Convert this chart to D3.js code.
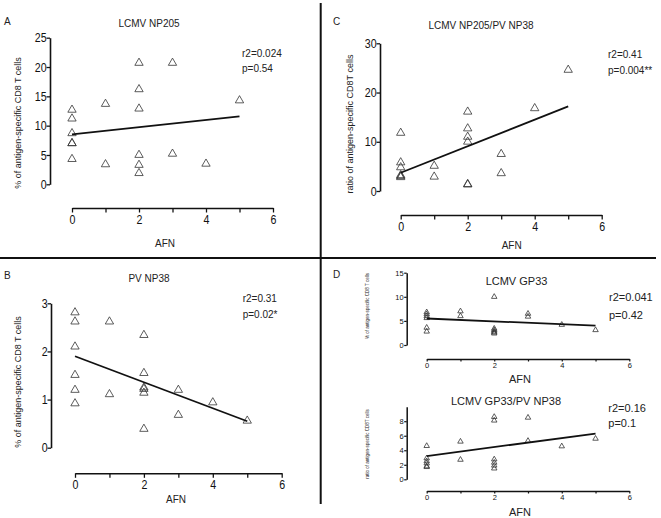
<!DOCTYPE html>
<html>
<head>
<meta charset="utf-8">
<script src="https://cdn.jsdelivr.net/npm/d3@7"></script>
<style>
  body { margin: 0; background: #fff; }
  svg { display: block; }
  text { font-family: "Liberation Sans", Arial, sans-serif; fill: #222; }
  .tick text { fill: #111; }
</style>
</head>
<body>
<div id="chart"></div>
<script>
// AFN categories on every x axis
var afnTicks = [0, 1, 2, 3, 4, 5, 6];
var afnLabels = ["0", "", "2", "", "4", "", "6"];

// A: LCMV NP205
var afnA = [0, 0, 0, 0, 0, 0, 1, 1, 2, 2, 2, 2, 2, 2, 3, 3, 4, 5];
var valA = [12.7, 11.2, 8.7, 7.0, 7.0, 4.3, 13.7, 3.4, 20.7, 16.2, 12.9, 5.0, 3.3, 1.9, 20.7, 5.2, 3.5, 14.3];
var fitA = [8.5, 11.6];

// B: PV NP38
var afnB = [0, 0, 0, 0, 0, 0, 1, 1, 2, 2, 2, 2, 2, 2, 3, 3, 4, 5];
var valB = [2.81, 2.62, 2.1, 1.51, 1.2, 0.92, 2.62, 1.11, 2.34, 1.55, 1.25, 1.22, 1.14, 0.39, 1.2, 0.68, 0.94, 0.56];
var fitB = [1.9, 0.55];

// C: LCMV NP205/PV NP38
var afnC = [0, 0, 0, 0, 0, 0, 1, 1, 2, 2, 2, 2, 2, 2, 3, 3, 4, 5];
var valC = [11.8, 5.8, 4.8, 3.2, 3.0, 2.8, 5.1, 2.9, 16.1, 12.7, 11.0, 10.0, 1.4, 1.3, 7.5, 3.6, 16.8, 24.6];
var fitC = [3.7, 17.2];

// D top: LCMV GP33
var afnD1 = [0, 0, 0, 0, 0, 0, 1, 1, 2, 2, 2, 2, 2, 2, 3, 3, 4, 5];
var valD1 = [6.8, 6.4, 6.0, 5.6, 3.6, 2.8, 7.0, 6.0, 10.0, 3.4, 3.1, 2.8, 2.6, 2.4, 6.5, 5.9, 4.2, 3.1];
var fitD1 = [5.5, 4.0];

// D bottom: LCMV GP33/PV NP38
var afnD2 = [0, 0, 0, 0, 0, 0, 1, 1, 2, 2, 2, 2, 2, 2, 3, 3, 4, 5];
var valD2 = [4.6, 2.9, 2.5, 2.2, 1.8, 1.7, 5.2, 2.7, 8.6, 8.1, 2.75, 2.3, 1.9, 1.5, 8.5, 5.3, 4.55, 5.6];
var fitD2 = [3.2, 6.3];

var fitX = [0, 5];

var svg = d3.select("#chart").append("svg")
  .attr("width", 661)
  .attr("height", 518);

// panel dividers
svg.append("line").attr("x1", 0).attr("x2", 656).attr("y1", 258).attr("y2", 258)
  .attr("stroke", "#111").attr("stroke-width", 2);
svg.append("line").attr("x1", 320.7).attr("x2", 320.7).attr("y1", 3).attr("y2", 504)
  .attr("stroke", "#111").attr("stroke-width", 2);

var panels = [
  { letter: "A", lx: 4, ly: 25, afn: afnA, vals: valA, fit: fitA,
    yDomain: [0, 25], yTicks: [0, 5, 10, 15, 20, 25], yTop: 37.7, yBot: 184.3, yAxisX: 50,
    xLeft: 72, xRight: 273, xAxisY: 208,
    title: "LCMV NP205", tx: 149, ty: 27, tsize: 10,
    ylab: "% of antigen-specific CD8 T cells", ylx: 21, yly: 123, ylsize: 9,
    stats: ["r2=0.024", "p=0.54"], sx: 242, sy: 56.7, sdy: 15, ssize: 10,
    afnX: 165, afnY: 247, afnSize: 10, tickSize: 13, sym: 30, axisW: 1.6 },
  { letter: "C", lx: 333, ly: 25, afn: afnC, vals: valC, fit: fitC,
    yDomain: [0, 30], yTicks: [0, 10, 20, 30], yTop: 43.3, yBot: 191, yAxisX: 380,
    xLeft: 400.7, xRight: 601.7, xAxisY: 215,
    title: "LCMV NP205/PV NP38", tx: 481, ty: 29, tsize: 10,
    ylab: "ratio of antigen-specific CD8T cells", ylx: 353, yly: 124, ylsize: 9,
    stats: ["r2=0.41", "p=0.004**"], sx: 608, sy: 58.3, sdy: 16, ssize: 10,
    afnX: 511.7, afnY: 249, afnSize: 10, tickSize: 13, sym: 30, axisW: 1.6 },
  { letter: "B", lx: 4, ly: 279, afn: afnB, vals: valB, fit: fitB,
    yDomain: [0, 3], yTicks: [0, 1, 2, 3], yTop: 303.3, yBot: 447.7, yAxisX: 51,
    xLeft: 75, xRight: 281.7, xAxisY: 473.3,
    title: "PV NP38", tx: 149, ty: 282, tsize: 10,
    ylab: "% of antigen-specific CD8 T cells", ylx: 21, yly: 382, ylsize: 9,
    stats: ["r2=0.31", "p=0.02*"], sx: 242.7, sy: 301.7, sdy: 16, ssize: 10,
    afnX: 176, afnY: 503, afnSize: 10, tickSize: 13, sym: 30, axisW: 1.6 },
  { letter: "D", lx: 333, ly: 278, afn: afnD1, vals: valD1, fit: fitD1,
    yDomain: [0, 15], yTicks: [0, 5, 10, 15], yTop: 272.7, yBot: 345, yAxisX: 406.7,
    xLeft: 426.7, xRight: 629.3, xAxisY: 359,
    title: "LCMV GP33", tx: 516.5, ty: 285, tsize: 11,
    ylab: "% of antigen-specific CD8 T cells", ylx: 369, yly: 306, ylsize: 4.5,
    stats: ["r2=0.041", "p=0.42"], sx: 609, sy: 301, sdy: 18, ssize: 11,
    afnX: 520, afnY: 383, afnSize: 11, tickSize: 7.5, sym: 13, axisW: 1.5 },
  { letter: "", lx: 0, ly: 0, afn: afnD2, vals: valD2, fit: fitD2,
    yDomain: [0, 10], yTicks: [0, 2, 4, 6, 8], yTop: 406.7, yBot: 479.3, yAxisX: 406.7,
    xLeft: 426.7, xRight: 629.3, xAxisY: 491,
    title: "LCMV GP33/PV NP38", tx: 506, ty: 405, tsize: 11,
    ylab: "ratio of antigen-specific CD8T cells", ylx: 369, yly: 444, ylsize: 4.5,
    stats: ["r2=0.16", "p=0.1"], sx: 608.3, sy: 411.7, sdy: 15, ssize: 11,
    afnX: 520, afnY: 516, afnSize: 11, tickSize: 7.5, sym: 13, axisW: 1.5 }
];

panels.forEach(function (p) {
  var g = svg.append("g");
  var big = p.tickSize > 10;

  var x = d3.scaleLinear().domain([0, 6]).range([p.xLeft, p.xRight]);
  var y = d3.scaleLinear().domain(p.yDomain).range([p.yBot, p.yTop]);

  // x axis (detached, Prism style)
  var xa = g.append("g")
    .attr("transform", "translate(0," + p.xAxisY + ")")
    .call(d3.axisBottom(x).tickValues(afnTicks)
      .tickFormat(function (d, i) { return afnLabels[i]; })
      .tickSize(big ? 4.5 : 2.5).tickSizeOuter(0).tickPadding(big ? 2 : 1));
  xa.select(".domain").attr("stroke", "#111").attr("stroke-width", p.axisW);
  xa.selectAll(".tick line").attr("stroke", "#111").attr("stroke-width", p.axisW * 0.8);
  xa.selectAll(".tick text").attr("font-size", p.tickSize)
    .attr("transform", big ? "scale(0.82,1)" : null);

  // y axis
  var ya = g.append("g")
    .attr("transform", "translate(" + p.yAxisX + ",0)")
    .call(d3.axisLeft(y).tickValues(p.yTicks).tickFormat(d3.format("d"))
      .tickSize(big ? 3.5 : 2.5).tickSizeOuter(0).tickPadding(0.5));
  ya.select(".domain").attr("stroke", "#111").attr("stroke-width", p.axisW);
  ya.selectAll(".tick line").attr("stroke", "#111").attr("stroke-width", p.axisW * 0.8);
  ya.selectAll(".tick text").attr("font-size", p.tickSize)
    .attr("transform", big ? "scale(0.82,1)" : null);

  // points
  g.append("g")
    .selectAll("path")
    .data(d3.range(0, p.vals.length))
    .enter()
    .append("path")
      .attr("d", d3.symbol().type(d3.symbolTriangle).size(p.sym))
      .attr("transform", function (d) { return "translate(" + x(p.afn[d]) + "," + y(p.vals[d]) + ")"; })
      .attr("fill", "none")
      .attr("stroke", "#333")
      .attr("stroke-width", 0.8);

  // regression line
  g.append("line")
    .attr("x1", x(fitX[0])).attr("y1", y(p.fit[0]))
    .attr("x2", x(fitX[1])).attr("y2", y(p.fit[1]))
    .attr("stroke", "#111")
    .attr("stroke-width", 1.8);

  // texts
  g.append("text").attr("x", p.tx).attr("y", p.ty).attr("text-anchor", "middle")
    .attr("font-size", p.tsize).text(p.title);
  g.append("text").attr("transform", "translate(" + p.ylx + "," + p.yly + ") rotate(-90)")
    .attr("text-anchor", "middle").attr("font-size", p.ylsize).attr("fill", "#333").text(p.ylab);
  p.stats.forEach(function (s, i) {
    g.append("text").attr("x", p.sx).attr("y", p.sy + i * p.sdy)
      .attr("font-size", p.ssize).text(s);
  });
  g.append("text").attr("x", p.afnX).attr("y", p.afnY).attr("text-anchor", "middle")
    .attr("font-size", p.afnSize).text("AFN");
  if (p.letter) {
    g.append("text").attr("x", p.lx).attr("y", p.ly).attr("font-size", 10).text(p.letter);
  }
});
</script>
</body>
</html>
